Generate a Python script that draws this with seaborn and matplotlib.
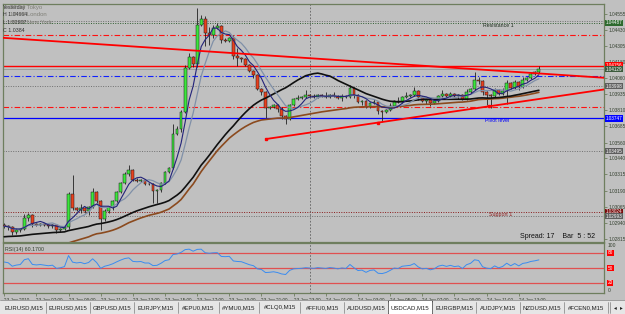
import numpy as np
import pandas as pd
import matplotlib
matplotlib.use("Agg")
import matplotlib.pyplot as plt
import matplotlib.transforms as mtransforms
from matplotlib.patches import Rectangle
import seaborn as sns

# USDCAD M15 closes, one bar every 15 min from 23 Jun 2010 05:00
closes = [
    1.02914, 1.02906, 1.02867, 1.02883, 1.02891, 1.02976, 1.02999, 1.02929, 1.02922, 1.02929,
    1.02922, 1.02914, 1.02922, 1.02883, 1.02891, 1.02906, 1.03161, 1.03053, 1.03038, 1.03053,
    1.03030, 1.03061, 1.03177, 1.03107, 1.02968, 1.03030, 1.03061, 1.03107, 1.03177, 1.03247,
    1.03316, 1.03347, 1.03270, 1.03262, 1.03270, 1.03239, 1.03239, 1.03185, 1.03192, 1.03247,
    1.03332, 1.03363, 1.03626, 1.03665, 1.03796, 1.04137, 1.04222, 1.04168, 1.04470, 1.04516,
    1.04408, 1.04392, 1.04446, 1.04462, 1.04353, 1.04346, 1.04369, 1.04230, 1.04214, 1.04206,
    1.04160, 1.04114, 1.04083, 1.03974, 1.03951, 1.03827, 1.03835, 1.03850, 1.03819, 1.03765,
    1.03742, 1.03850, 1.03897, 1.03905, 1.03912, 1.03928, 1.03920, 1.03912, 1.03928, 1.03920,
    1.03912, 1.03928, 1.03920, 1.03905, 1.03920, 1.03912, 1.03982, 1.03928, 1.03874, 1.03881,
    1.03835, 1.03866, 1.03874, 1.03804, 1.03796, 1.03812, 1.03843, 1.03881, 1.03874, 1.03912,
    1.03920, 1.03928, 1.03959, 1.03912, 1.03881, 1.03889, 1.03866, 1.03881, 1.03920, 1.03935,
    1.03920, 1.03935, 1.03920, 1.03928, 1.03897, 1.03951, 1.03974, 1.04044, 1.04036, 1.03951,
    1.03928, 1.03920, 1.03966, 1.03935, 1.03959, 1.04021, 1.03982, 1.04028, 1.03990, 1.04044,
    1.04059, 1.04090, 1.04106, 1.04129,
]
first_open = 1.02922

# wick lengths in pips above / below the body
wick_up = [
    2, 1, 1, 2, 1, 3, 2, 1, 1, 1, 1, 1, 1, 1, 1, 1, 2, 15, 1, 3,
    1, 1, 3, 1, 1, 2, 1, 1, 1, 1, 2, 4, 1, 2, 1, 1, 1, 1, 1, 1,
    1, 1, 8, 2, 2, 2, 3, 1, 13, 3, 2, 5, 2, 2, 1, 2, 1, 2, 6, 1,
    1, 1, 1, 1, 1, 1, 1, 1, 1, 2, 1, 1, 1, 2, 1, 4, 1, 2, 1, 1,
    3, 1, 2, 1, 2, 1, 2, 1, 1, 1, 1, 1, 2, 1, 1, 1, 2, 1, 3, 1,
    3, 1, 3, 1, 1, 1, 1, 1, 1, 3, 1, 2, 1, 1, 1, 2, 1, 6, 2, 1,
    1, 1, 2, 1, 2, 2, 1, 2, 1, 2, 1, 2, 1, 2,
]
wick_dn = [
    1, 2, 2, 1, 1, 1, 2, 2, 1, 1, 1, 1, 1, 2, 1, 1, 1, 1, 1, 2,
    1, 3, 1, 1, 8, 1, 1, 2, 1, 1, 1, 1, 1, 1, 1, 1, 1, 9, 9, 1,
    1, 1, 1, 1, 2, 1, 1, 2, 2, 1, 10, 8, 2, 1, 2, 1, 1, 2, 6, 2,
    1, 1, 2, 1, 2, 8, 1, 1, 2, 2, 4, 1, 1, 1, 1, 1, 1, 1, 1, 1,
    1, 1, 1, 1, 2, 1, 1, 2, 1, 2, 1, 1, 1, 2, 8, 1, 1, 1, 1, 1,
    1, 1, 1, 2, 1, 2, 2, 1, 1, 1, 1, 1, 1, 2, 1, 1, 1, 1, 2, 2,
    8, 9, 1, 1, 1, 10, 1, 1, 2, 1, 1, 1, 1, 1,
]

# indicator settings and starting levels at the left edge
fast_period, mid_period, slow_period, ema_period = 5, 8, 34, 50
slow_start = 1.02830
ema_start = 1.02637
rsi_period = 14
rsi_start = 62
rsi_levels = [80, 50, 20]

price_ticks = [1.04555, 1.04430, 1.04305, 1.04180, 1.04060, 1.03935, 1.03810, 1.03685,
               1.03560, 1.03440, 1.03315, 1.03190, 1.03065, 1.02940, 1.02815]

# horizontal levels
prev_high = 1.04497
resistance1 = 1.04487
red_upper = 1.04396
red_line = 1.04156
blue_line = 1.04075
gray_mid = 1.03998
red_lower = 1.03836
pivot = 1.03747
gray_low = 1.03495
support1 = 1.03024
gray_bottom = 1.02993

# trend lines (bar index, price)
down_bars, down_prices = [-1, 150], [1.04372, 1.04060]
up_bars, up_prices = [65.1, 150], [1.03588, 1.03975]
up_marks = [65.1, 93.1, 120.7]

tabs = ["EURUSD,M15", "EURUSD,M15", "GBPUSD,M15", "EURJPY,M15", "#EPU0,M15", "#YMU0,M15",
        "#CLQ0,M15", "#FFIU0,M15", "AUDUSD,M15", "USDCAD,M15", "EURGBP,M15", "AUDJPY,M15",
        "NZDUSD,M15", "#FCEN0,M15", "USDCHF,M15"]
active_tab = "USDCAD,M15"

sns.set_style("white")
plt.rcParams["font.family"] = ["Liberation Sans", "DejaVu Sans"]

n = len(closes)
bars = np.arange(n)
times = pd.date_range("2010-06-23 05:00", periods=n, freq="15min")
c = np.array(closes)
o = np.r_[first_open, c[:-1]]
hi = np.maximum(o, c) + np.array(wick_up) * 1e-4
lo = np.minimum(o, c) - np.array(wick_dn) * 1e-4

# moving averages
fast = pd.Series(c).rolling(fast_period, min_periods=1).mean().values
mid = pd.Series(c).rolling(mid_period, min_periods=1).mean().values
slow = pd.Series([slow_start] * (slow_period - 1) + closes).rolling(slow_period).mean().values[slow_period - 1:]
alpha = 2 / (ema_period + 1)
ema = []
e = ema_start
for v in c:
    e = e + alpha * (v - e)
    ema.append(e)
ma = pd.DataFrame({"bar": bars, "fast": fast, "mid": mid, "slow": slow, "ema": ema})

# RSI (Wilder)
d = np.diff(c, prepend=c[0])
ag, al = 1e-4 * rsi_start / (100 - rsi_start), 1e-4
rsi = []
for v in d:
    ag = (ag * (rsi_period - 1) + max(v, 0)) / rsi_period
    al = (al * (rsi_period - 1) + max(-v, 0)) / rsi_period
    rsi.append(100 - 100 / (1 + ag / al))
rsi_df = pd.DataFrame({"bar": bars, "rsi": rsi})

W, H = 625, 314
BG = "#C0C0C0"
FRAME = "#6E7E5E"
TXT = "#34402F"


def fbox(l, t, r, b):
    return [l / W, 1 - b / H, (r - l) / W, (b - t) / H]


fig = plt.figure(figsize=(6.25, 3.14), dpi=100, facecolor=BG)
ax = fig.add_axes(fbox(3, 4, 604, 242))
ax2 = fig.add_axes(fbox(3, 243, 604, 293), sharex=ax)
for a in (ax, ax2):
    a.set_facecolor(BG)
    for s in a.spines.values():
        s.set_color(FRAME)
        s.set_linewidth(0.9)

x0, x1 = -0.3, 149.2
ax.set_xlim(x0, x1)
ax.set_ylim(1.02792, 1.04632)

# horizontal lines
ax.axhline(prev_high, color="#707070", ls=(0, (1, 1.5)), lw=0.7)
ax.axhline(resistance1, color="#2F5F2F", ls=(0, (1, 1.5)), lw=0.7)
ax.axhline(red_upper, color="#FF1010", ls=(0, (5, 2, 1, 2)), lw=0.8)
ax.axhline(red_line, color="#FF0000", lw=1.0)
ax.axhline(c[-1], color="#909090", lw=0.5)
ax.axhline(blue_line, color="#1020FF", ls=(0, (5, 2, 1, 2)), lw=0.8)
ax.axhline(gray_mid, color="#707070", ls=(0, (1, 1.5)), lw=0.7)
ax.axhline(red_lower, color="#FF1010", ls=(0, (5, 2, 1, 2)), lw=0.8)
ax.axhline(pivot, color="#0000FF", lw=0.9)
ax.axhline(gray_low, color="#707070", ls=(0, (1, 1.5)), lw=0.7)
ax.axhline(support1, color="#8B1A1A", ls=(0, (1, 1.5)), lw=0.7)
ax.axhline(gray_bottom, color="#707070", ls=(0, (1, 1.5)), lw=0.7)

# day separator
day_bar = int(np.where(times == pd.Timestamp("2010-06-24 00:00"))[0][0])
for a in (ax, ax2):
    a.axvline(day_bar, color="#606060", ls=(0, (2, 2)), lw=0.6)

# candles
ax.vlines(bars, lo, hi, color="#202020", lw=0.6, zorder=3)
body = np.maximum(np.abs(c - o), 0.000012)
bull = c >= o
ax.bar(bars[bull], body[bull], bottom=np.minimum(o, c)[bull], width=0.7,
       color="#3CE63C", edgecolor="#1A1A1A", lw=0.35, zorder=4)
ax.bar(bars[~bull], body[~bull], bottom=np.minimum(o, c)[~bull], width=0.7,
       color="#E8401E", edgecolor="#1A1A1A", lw=0.35, zorder=4)

# moving averages
sns.lineplot(data=ma, x="bar", y="ema", ax=ax, color="#8B4A1E", lw=1.2, estimator=None, sort=False, zorder=5)
sns.lineplot(data=ma, x="bar", y="slow", ax=ax, color="#101010", lw=1.2, estimator=None, sort=False, zorder=5)
sns.lineplot(data=ma, x="bar", y="mid", ax=ax, color="#8090A8", lw=0.9, estimator=None, sort=False, zorder=5)
sns.lineplot(data=ma, x="bar", y="fast", ax=ax, color="#23237A", lw=0.8, estimator=None, sort=False, zorder=6)

# trend lines
ax.plot(down_bars, down_prices, color="#FF0000", lw=1.3, zorder=7)
ax.plot(up_bars, up_prices, color="#FF0000", lw=1.3, zorder=7)
ax.plot(up_marks, np.interp(up_marks, up_bars, up_prices), "s", color="#FF0000", ms=2, zorder=7)

# labels on levels
ax.text(119, resistance1, "Resistance 1", fontsize=3.8, color="#1E2E1E", va="top", ha="left")
ax.text(119.5, pivot, "Pivot level", fontsize=3.8, color="#0000FF", va="top", ha="left")
ax.text(120.5, support1, "Support 1", fontsize=3.8, color="#8B1A1A", va="top", ha="left")
ax.text(0.985, 0.008, "Spread: 17    Bar  5 : 52", transform=ax.transAxes, fontsize=5,
        color="#101010", ha="right", va="bottom")

# top-left info
info = [("Yesterday", "22:24 Tokyo", 8), ("H 1.04664", "14:24 London", 15),
        ("L 1.02907", "09:24 New York", 23), ("C 1.0384", "", 30)]
for left, right, py in info:
    fig.text(3 / W, 1 - py / H, left, fontsize=3.8, color="#303030", va="center")
    if right:
        fig.text(10 / W, 1 - py / H, right, fontsize=4.3, color="#808078", va="center")

# right price axis
ax.yaxis.tick_right()
ax.set_yticks(price_ticks)
ax.set_yticklabels([f"{p:.5f}" for p in price_ticks])
ax.tick_params(axis="y", labelsize=3.4, labelcolor=TXT, colors=FRAME, length=2, pad=1.2, width=0.6)
ax.tick_params(axis="x", bottom=False, labelbottom=False)
ax.set_xlabel("")
ax.set_ylabel("")

trans = mtransforms.blended_transform_factory(ax.transAxes, ax.transData)
boxes = [(resistance1, "#2E6A2E"), (red_line, "#FF0000"), (c[-1], "#3C5A3C"), (gray_mid, "#5E5E5E"),
         (pivot, "#0000FF"), (gray_low, "#5E5E5E"), (support1, "#7A0A0A"), (gray_bottom, "#5E5E5E")]
for p, col in boxes:
    ax.text(1.003, p, f"{p:.5f}", transform=trans, fontsize=3.3, color="white", va="center", ha="left",
            clip_on=False, zorder=10,
            bbox=dict(boxstyle="square,pad=0.15", fc=col, ec="none"))

# RSI panel
ax2.set_ylim(0, 100)
for lv in rsi_levels:
    ax2.axhline(lv, color="#E05050", lw=0.9)
sns.lineplot(data=rsi_df, x="bar", y="rsi", ax=ax2, color="#3A8CF0", lw=0.7, estimator=None, sort=False)
ax2.set_yticks([])
ax2.set_xlabel("")
ax2.set_ylabel("")
ax2.text(0.004, 0.93, f"RSI({rsi_period}) 60.1700", transform=ax2.transAxes, fontsize=3.8, color=TXT, va="top")
trans2 = mtransforms.blended_transform_factory(ax2.transAxes, ax2.transData)
ax2.text(1.006, 100, "100", transform=trans2, fontsize=3.6, color=TXT, va="top", clip_on=False)
ax2.text(1.006, 0, "0", transform=trans2, fontsize=3.6, color=TXT, va="bottom", clip_on=False)
for lv in rsi_levels:
    ax2.text(1.006, lv, f"{lv}", transform=trans2, fontsize=3.4, color="white", va="center", clip_on=False,
             bbox=dict(boxstyle="square,pad=0.15", fc="#FF0000", ec="none"))

tick_bars = bars[::8]
tick_labels = ["23 Jun 2010" if i == 0 else times[i].strftime("%d %b %H:%M") for i in tick_bars]
ax2.set_xticks(tick_bars)
ax2.set_xticklabels(tick_labels)
ax2.tick_params(axis="x", bottom=True, labelsize=3.3, labelcolor=TXT, colors=FRAME, length=2.5, pad=0.8, width=0.6)
for lab in ax2.get_xticklabels():
    lab.set_ha("left")
ax2.set_xlim(x0, x1)

# symbol tabs
fig.patches.append(Rectangle((0, 0), 1, 1 - 300 / H, transform=fig.transFigure, fc="#E6E6E6", ec="none"))
fig.add_artist(plt.Line2D([0, 1], [1 - 300 / H] * 2, color="#909090", lw=0.6))
px = 2
for name in tabs:
    w = 11 + 3.3 * len(name)
    right = min(px + w, 610)
    if name == active_tab:
        fig.patches.append(Rectangle((px / W, 0), w / W, 1 - 300 / H, transform=fig.transFigure,
                                     fc="white", ec="#303030", lw=0.6))
    if px + w < 610:
        fig.text((px + w / 2) / W, 1 - 308 / H, name, fontsize=4.3, color="#202020", ha="center", va="center")
    elif px + 8 < 610:
        fig.text((px + 4) / W, 1 - 308 / H, name[:1], fontsize=4.3, color="#202020", ha="left", va="center")
    fig.add_artist(plt.Line2D([right / W] * 2, [1 - 302 / H, 1 - 313 / H], color="#808080", lw=0.5))
    px += w
fig.text(615 / W, 1 - 308 / H, "\u25c2", fontsize=4, color="#202020", ha="center", va="center")
fig.text(621 / W, 1 - 308 / H, "\u25b8", fontsize=4, color="#202020", ha="center", va="center")

fig.savefig("out.png", dpi=100, facecolor=BG)
